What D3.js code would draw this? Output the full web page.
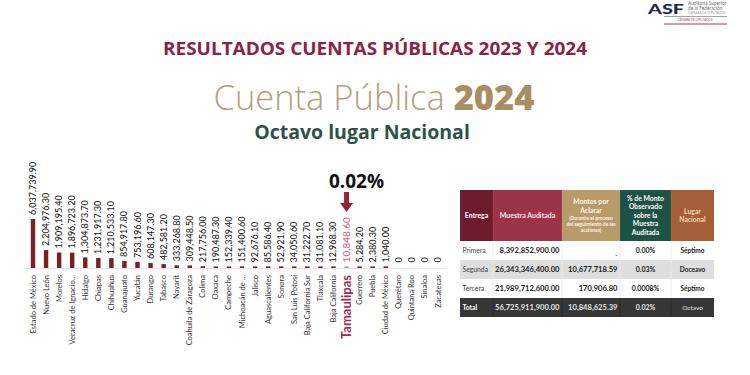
<!DOCTYPE html>
<html><head><meta charset="utf-8">
<script src="https://cdn.jsdelivr.net/npm/d3@7"></script>
<style>
html,body{margin:0;padding:0;background:#fff;}
svg{display:block;font-family:Lato, "Open Sans", sans-serif;}
</style></head>
<body>
<svg id="c" width="750" height="375"></svg>
<script>
// ---- data ----
const states = ["Estado de México","Nuevo León","Morelos","Veracruz de Ignacio...","Hidalgo","Chiapas","Chihuahua","Guanajuato","Yucatán","Durango","Tabasco","Nayarit","Coahuila de Zaragoza","Colima","Oaxaca","Campeche","Michoacán de ...","Jalisco","Aguascalientes","Sonora","San Luis Potosí","Baja California Sur","Tlaxcala","Baja California","Tamaulipas","Guerrero","Puebla","Ciudad de México","Querétaro","Quintana Roo","Sinaloa","Zacatecas"];
const values = [6037739.90,2204976.30,1909195.40,1896723.20,1304873.70,1231917.30,1210533.10,854917.80,753196.60,608147.30,482581.20,333268.80,309448.50,217756.00,190487.30,152339.40,151400.60,92676.10,85586.40,52921.90,34050.60,31222.70,31081.10,12968.30,10848.60,5284.20,2380.30,1040.00,0,0,0,0];
const highlight = "Tamaulipas";
const highlightLabel = "0.02%";

const tableHeaders = ["Entrega","Muestra Auditada","Montos por Aclarar","% de Monto Observado sobre la Muestra Auditada","Lugar Nacional"];
const entregas = ["Primera","Segunda","Tercera","Total"];
const muestra = ["8,392,852,900.00","26,343,346,400.00","21,989,712,600.00","56,725,911,900.00"];
const montos = ["-","10,677,718.59","170,906.80","10,848,625.39"];
const porcentaje = ["0.00%","0.03%","0.0008%","0.02%"];
const lugar = ["Séptimo","Doceavo","Séptimo","Octavo"];

// ---- drawing ----
const svg = d3.select("#c");

// logo
const logo = svg.append("g");
logo.append("text").attr("x",648).attr("y",13.5).attr("font-size",13).attr("font-weight",900)
  .attr("textLength",36).attr("lengthAdjust","spacingAndGlyphs")
  .attr("font-family","Lato, sans-serif").attr("fill","#1d2b4d").text("ASF");
[["Auditoría Superior",5],["de la Federación",10]].forEach(([t,y])=>
  logo.append("text").attr("x",688).attr("y",y).attr("font-size",4.8).attr("fill","#6d6d6d").text(t));
logo.append("text").attr("x",688).attr("y",13.6).attr("font-size",3.2).attr("fill","#999").text("CÁMARA DE DIPUTADOS");
logo.append("line").attr("x1",664).attr("x2",727).attr("y1",16.5).attr("y2",16.5).attr("stroke","#9aaba3").attr("stroke-width",1.2);
logo.append("text").attr("x",695).attr("y",21).attr("font-size",3).attr("text-anchor","middle").attr("fill","#a05060").text("CÁMARA DE DIPUTADOS");
logo.append("line").attr("x1",664).attr("x2",727).attr("y1",24).attr("y2",24).attr("stroke","#b03a4a").attr("stroke-width",1.2);

// titles
svg.append("text").attr("x",375).attr("y",55).attr("text-anchor","middle")
  .attr("font-family","'Open Sans', sans-serif").attr("font-weight",700).attr("font-size",18.5)
  .attr("textLength",424).attr("lengthAdjust","spacingAndGlyphs")
  .attr("fill","#8a2344").text("RESULTADOS CUENTAS PÚBLICAS 2023 Y 2024");
const t2 = svg.append("text").attr("x",374).attr("y",110).attr("text-anchor","middle")
  .attr("font-family","'Open Sans', sans-serif").attr("font-size",34.5).attr("fill","#b39f7c");
t2.append("tspan").attr("font-weight",300).text("Cuenta Pública ");
t2.append("tspan").attr("font-weight",800).attr("fill","#a88f63").text("2024");
svg.append("text").attr("x",362).attr("y",138.5).attr("text-anchor","middle")
  .attr("font-family","'Open Sans', sans-serif").attr("font-weight",700).attr("font-size",19.5)
  .attr("fill","#2e5247").text("Octavo lugar Nacional");

// bar chart
const x = d3.scalePoint().domain(states).range([33,438]);
const y = d3.scaleLinear().domain([0,d3.max(values)]).range([268,219]);
const fmt = v => v===0 ? "0" : d3.format(",.2f")(v);

svg.append("line").attr("x1",24).attr("x2",446).attr("y1",y(0)+0.5).attr("y2",y(0)+0.5)
  .attr("stroke","#e6e6e6").attr("stroke-width",1);

const g = svg.append("g");
g.selectAll("rect").data(states.map((s,i)=>({s,v:values[i]})).filter(d=>d.v>0)).join("rect")
  .attr("x",d=>x(d.s)-2.2).attr("width",4.4)
  .attr("y",d=>Math.min(y(d.v), y(0)-1.6))
  .attr("height",d=>y(0)-Math.min(y(d.v), y(0)-1.6))
  .attr("fill",d=>d.s===highlight?"#c98ba0":"#7a1f22");

g.selectAll("text.val").data(states.map((s,i)=>({s,v:values[i]}))).join("text")
  .attr("class","val")
  .attr("transform",d=>`translate(${x(d.s)+3},${Math.min(y(d.v), y(0)-1.6)-4}) rotate(-90)`)
  .attr("font-size",d=>d.s===highlight?10:9)
  .attr("font-weight",d=>d.s===highlight?600:500)
  .attr("fill",d=>d.s===highlight?"#c9738f":"#222")
  .text(d=>fmt(d.v));

g.selectAll("text.cat").data(states).join("text")
  .attr("class","cat")
  .attr("transform",d=>`translate(${x(d)+(d===highlight?4.5:2.5)},275) rotate(-90)`)
  .attr("text-anchor","end")
  .attr("font-size",d=>d===highlight?13:7.5)
  .attr("font-weight",d=>d===highlight?700:400)
  .attr("fill",d=>d===highlight?"#a3294c":"#333")
  .text(d=>d);

// highlight annotation
const hx = x(highlight);
svg.append("text").attr("x",hx+10).attr("y",188).attr("text-anchor","middle")
  .attr("font-family","'Open Sans', sans-serif").attr("font-weight",700).attr("font-size",19)
  .attr("fill","#111").text(highlightLabel);
svg.append("path")
  .attr("d",d3.line()([[hx-2.5,192],[hx+2.5,192],[hx+2.5,203],[hx+6.5,203],[hx,212],[hx-6.5,203],[hx-2.5,203]]))
  .attr("fill","#9a2238");

// table
const colX = [460,493,562,620,671,714];
const rowY = [190,241,260,279,298,317];
const headColors = ["#6e1c2d","#9b3448","#b99a6b","#1f5247","#a45f36"];
const tg = svg.append("g").attr("font-family","Lato, sans-serif");
headColors.forEach((c,i)=>tg.append("rect").attr("x",colX[i]).attr("y",rowY[0])
  .attr("width",colX[i+1]-colX[i]).attr("height",rowY[1]-rowY[0]).attr("fill",c));
const headLines = [
  [["Entrega",6.8,700]],
  [["Muestra Auditada",7,700]],
  [["Montos por",6.8,700],["Aclarar",6.8,700],["(Durante el proceso",5,700],["del seguimiento de las",5,700],["acciones)",5,700]],
  [["% de Monto",6.8,700],["Observado",6.8,700],["sobre la",6.8,700],["Muestra",6.8,700],["Auditada",6.8,700]],
  [["Lugar",6.8,700],["Nacional",6.8,700]]
];
const headFill = ["#fff","#f6e5e8","#fff6e6","#fff","#f4d6b0"];
headLines.forEach((lines,i)=>{
  const cx=(colX[i]+colX[i+1])/2, cy=(rowY[0]+rowY[1])/2;
  const hs = lines.map(l=>l[1]*1.25);
  const tot = d3.sum(hs);
  let yy = cy - tot/2;
  lines.forEach((l,j)=>{
    tg.append("text").attr("x",cx).attr("y",yy+hs[j]*0.78).attr("text-anchor","middle")
      .attr("font-size",l[1]).attr("font-weight",l[2]).attr("fill",headFill[i]).text(l[0]);
    yy+=hs[j];
  });
});
const rowFill = ["#ffffff","#dedede","#ffffff","#363636"];
entregas.forEach((e,r)=>{
  const y0=rowY[r+1], y1=rowY[r+2], cy=(y0+y1)/2+2.5;
  const total = r===3;
  tg.append("rect").attr("x",colX[0]).attr("y",y0).attr("width",colX[5]-colX[0]).attr("height",y1-y0).attr("fill",rowFill[r]);
  tg.append("text").attr("x",colX[0]+2.5).attr("y",cy).attr("font-size",6.8)
    .attr("font-weight",total?700:400).attr("fill",total?"#fff":"#444").text(e);
  tg.append("text").attr("x",colX[2]-2.5).attr("y",cy).attr("text-anchor","end").attr("font-size",7.6)
    .attr("font-weight",700).attr("fill",total?"#e6e6e6":"#222").text(muestra[r]);
  tg.append("text").attr("x",colX[3]-2.5).attr("y",montos[r]==="-"?cy+4:cy).attr("text-anchor","end").attr("font-size",montos[r]==="-"?6:7.6)
    .attr("font-weight",700).attr("fill",total?"#e6e6e6":"#222").text(montos[r]);
  tg.append("text").attr("x",(colX[3]+colX[4])/2).attr("y",cy).attr("text-anchor","middle").attr("font-size",7)
    .attr("font-weight",700).attr("fill",total?"#e6e6e6":"#222").text(porcentaje[r]);
  tg.append("text").attr("x",(colX[4]+colX[5])/2).attr("y",cy).attr("text-anchor","middle").attr("font-size",6.5)
    .attr("font-weight",total?400:700).attr("fill",total?"#e6e6e6":"#222").text(lugar[r]);
  [1,2,3,4].forEach(k=>tg.append("line").attr("x1",colX[k]).attr("x2",colX[k]).attr("y1",y0).attr("y2",y1)
    .attr("stroke",total?"#2a2a2a":"#e8e8e8").attr("stroke-width",0.8));
});
[1,2,3,4].forEach(k=>tg.append("line").attr("x1",colX[k]).attr("x2",colX[k]).attr("y1",rowY[0]).attr("y2",rowY[1])
  .attr("stroke","#ffffff").attr("stroke-opacity",0.15).attr("stroke-width",0.6));
</script>
</body></html>
